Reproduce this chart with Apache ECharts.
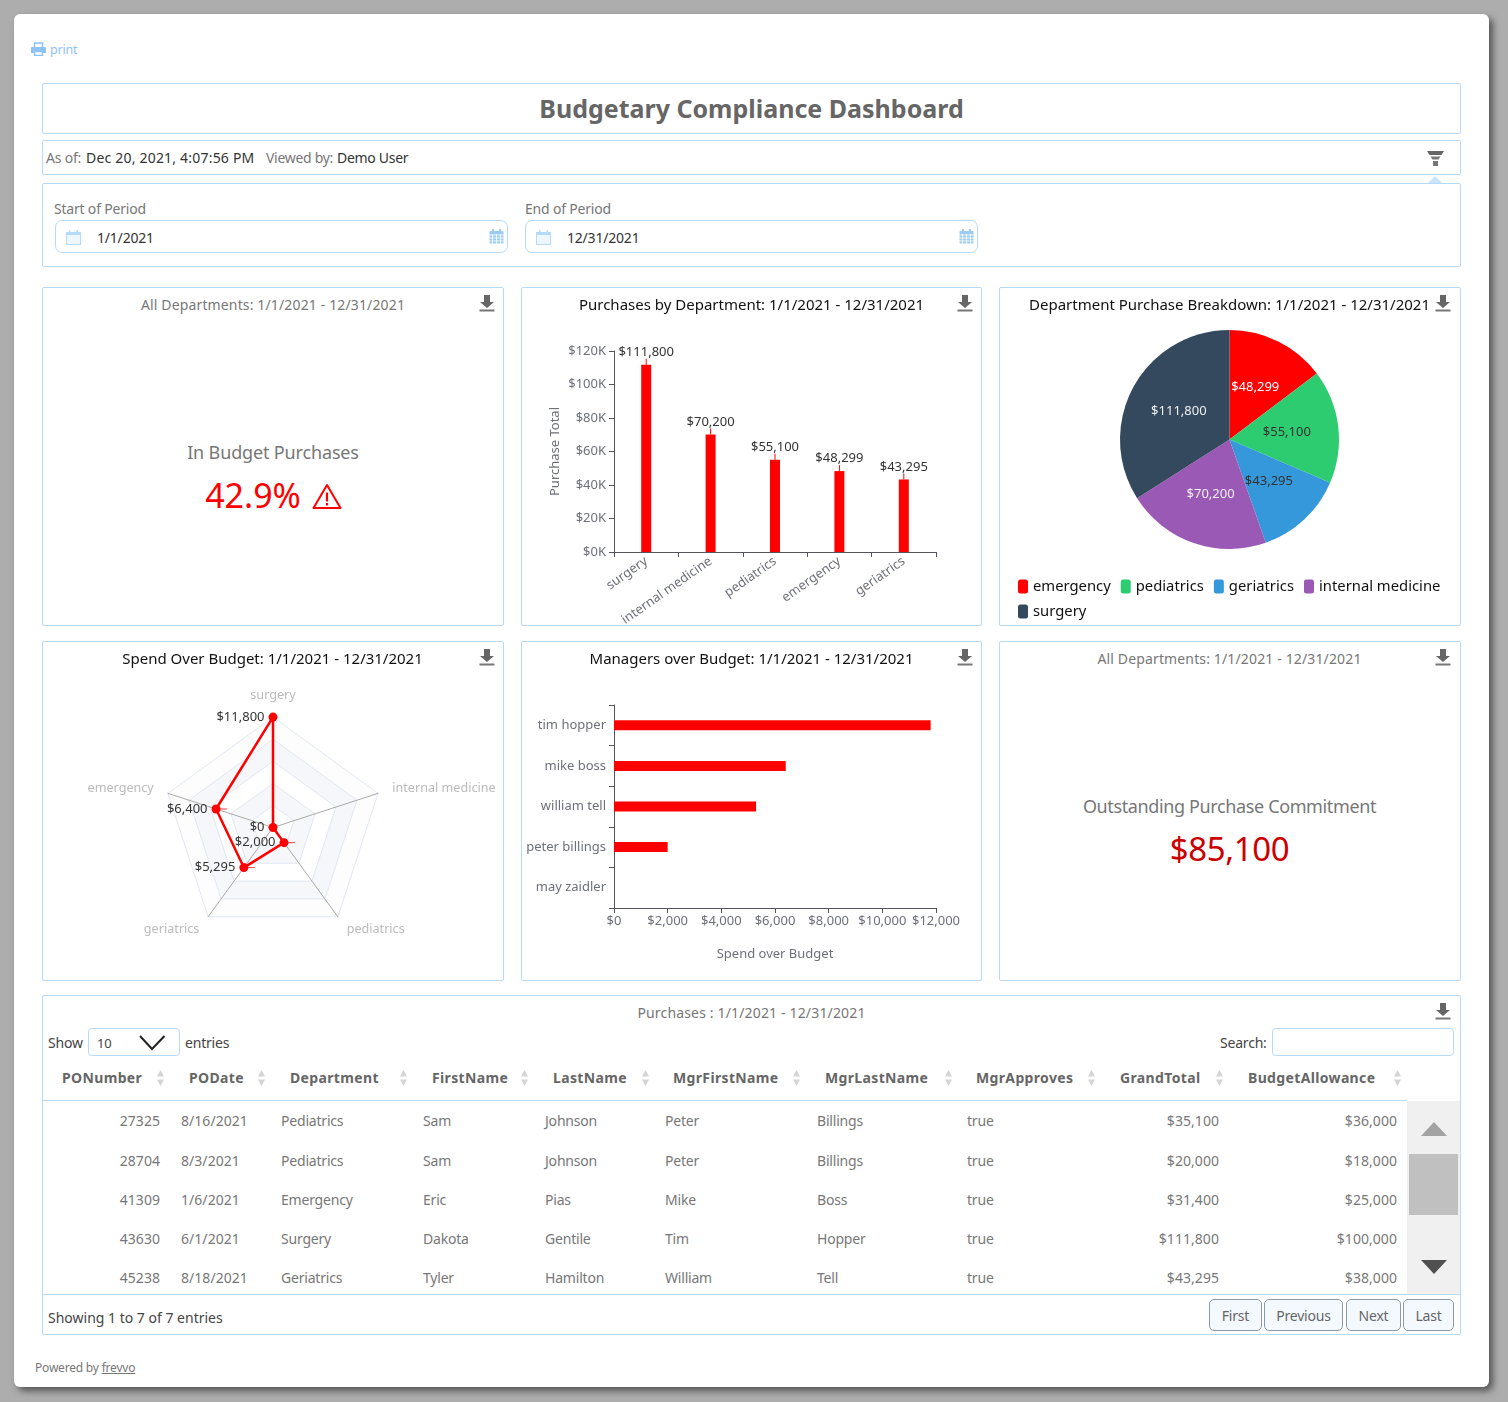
<!DOCTYPE html>
<html>
<head>
<meta charset="utf-8">
<title>Budgetary Compliance Dashboard</title>
<script src="https://cdn.jsdelivr.net/npm/echarts@6/dist/echarts.min.js"></script>
<style>
html, body { margin: 0; padding: 0; width: 1508px; height: 1402px; overflow: hidden; background: #adadad; font-family: "Noto Sans", sans-serif; }
#sheet { position: absolute; left: 14px; top: 14px; width: 1475px; height: 1373px; background: #fff; border-radius: 6px; box-shadow: 4px 4px 7px #555; }
#page { position: absolute; left: 0; top: 0; width: 1508px; height: 1402px; }
.box { position: absolute; box-sizing: border-box; border: 1px solid #b5dbfb; border-radius: 2px; }
.t { position: absolute; white-space: nowrap; line-height: 20px; height: 20px; font-size: 14px; color: #666; letter-spacing: -0.2px; }
.chart { position: absolute; }
svg { position: absolute; }
.btn { position: absolute; box-sizing: border-box; top: 1299px; height: 32px; line-height: 32px; text-align: center; background: #f3f9ff; border: 1px solid #8a9aa8; border-radius: 5px; font-size: 14px; color: #666; letter-spacing: -0.2px; }
</style>
</head>
<body>
<div id="sheet"></div>
<div id="page"></div>
<script>
// chart data
var barDepts = ['surgery', 'internal medicine', 'pediatrics', 'emergency', 'geriatrics'];
var barTotals = [111800, 70200, 55100, 48299, 43295];

var pieDepts = ['emergency', 'pediatrics', 'geriatrics', 'internal medicine', 'surgery'];
var pieTotals = [48299, 55100, 43295, 70200, 111800];
var pieColors = ['#ff0000', '#2ecc71', '#3498db', '#9b59b6', '#34495e'];
var pieLabelColors = ['#fff', '#333', '#333', '#eee', '#eee'];

// radar runs counterclockwise from the top
var radarDepts = ['surgery', 'emergency', 'geriatrics', 'pediatrics', 'internal medicine'];
var radarOver = [11800, 6400, 5295, 2000, 0];
var radarStubDepts = ['emergency', 'geriatrics', 'pediatrics'];

var managers = ['tim hopper', 'mike boss', 'william tell', 'peter billings', 'may zaidler'];
var managerOver = [11800, 6400, 5295, 2000, 0];

// table data
var tableHead = ['PONumber', 'PODate', 'Department', 'FirstName', 'LastName', 'MgrFirstName', 'MgrLastName', 'MgrApproves', 'GrandTotal', 'BudgetAllowance'];
var tableRows = [
    ['27325', '8/16/2021', 'Pediatrics', 'Sam', 'Johnson', 'Peter', 'Billings', 'true', '$35,100', '$36,000'],
    ['28704', '8/3/2021', 'Pediatrics', 'Sam', 'Johnson', 'Peter', 'Billings', 'true', '$20,000', '$18,000'],
    ['41309', '1/6/2021', 'Emergency', 'Eric', 'Pias', 'Mike', 'Boss', 'true', '$31,400', '$25,000'],
    ['43630', '6/1/2021', 'Surgery', 'Dakota', 'Gentile', 'Tim', 'Hopper', 'true', '$111,800', '$100,000'],
    ['45238', '8/18/2021', 'Geriatrics', 'Tyler', 'Hamilton', 'William', 'Tell', 'true', '$43,295', '$38,000']
];

var font = '"Noto Sans", sans-serif';
var period = '1/1/2021 - 12/31/2021';
var page = document.getElementById('page');

function box(x, y, w, h, css) {
    var d = document.createElement('div');
    d.className = 'box';
    d.style.cssText = 'left:' + x + 'px;top:' + y + 'px;width:' + w + 'px;height:' + h + 'px;' + (css || '');
    page.appendChild(d);
    return d;
}
// y is the vertical middle of the text
function text(x, y, str, css, right) {
    var d = document.createElement('div');
    d.className = 't';
    d.textContent = str;
    d.style.cssText = (right ? 'right:' + (1508 - x) + 'px' : 'left:' + x + 'px') + ';top:' + (y - 10) + 'px;' + (css || '');
    page.appendChild(d);
    return d;
}
function centered(cx, y, str, css) {
    var d = text(cx, y, str, css);
    d.style.transform = 'translateX(-50%)';
    return d;
}
function svg(x, y, w, h, body) {
    var s = '<svg xmlns="http://www.w3.org/2000/svg" style="left:' + x + 'px;top:' + y + 'px" width="' + w + '" height="' + h + '" viewBox="0 0 ' + w + ' ' + h + '">' + body + '</svg>';
    page.insertAdjacentHTML('beforeend', s);
}
function download(x, y) {
    svg(x, y, 16, 17, '<path fill="#666" d="M5 0h6v7h4l-7 6-7-6h4z"/><rect x="0.5" y="14.5" width="15" height="2" fill="#777"/>');
}
function calendar(x, y, solid) {
    if (solid) {
        svg(x, y, 15, 15, '<rect x="0.5" y="2" width="14" height="12.5" rx="1" fill="#9ccbf5"/><path stroke="#fff" stroke-width="0.8" d="M0 6h15M0 9h15M0 12h15M3.5 5v10M7.5 5v10M11.5 5v10"/><rect x="3" y="0" width="2" height="3" fill="#9ccbf5"/><rect x="10" y="0" width="2" height="3" fill="#9ccbf5"/>');
    } else {
        svg(x, y, 15, 15, '<rect x="0.5" y="2.5" width="14" height="12" fill="#eef6fe" stroke="#b5dbfb"/><rect x="1" y="3" width="13" height="2" fill="#b5dbfb"/><rect x="3" y="0" width="1.5" height="4" fill="#b5dbfb"/><rect x="10.5" y="0" width="1.5" height="4" fill="#b5dbfb"/>');
    }
}

// header
svg(31, 42, 15, 14, '<path fill="none" stroke="#8fc3f5" stroke-width="1.500" d="M3.500 5V1h8v4"/><path fill="#8fc3f5" d="M1 5h13a1 1 0 0 1 1 1v5h-3V9H3v2H0V6a1 1 0 0 1 1-1z"/><path fill="none" stroke="#8fc3f5" stroke-width="1.500" d="M3.500 9.500h8v4h-8z"/>');
text(50, 50, 'print', 'color:#8fc3f5;font-size:12.5px');
box(42, 83, 1419, 51);
centered(751.5, 108, 'Budgetary Compliance Dashboard', 'font-size:25px;font-weight:700;color:#666;letter-spacing:0');
box(42, 140, 1419, 35);
text(46, 158, 'As of:', 'color:#777');
text(86, 158, 'Dec 20, 2021, 4:07:56 PM', 'color:#333;letter-spacing:0.2px');
text(266, 158, 'Viewed by:', 'color:#777;letter-spacing:-0.3px');
text(337, 158, 'Demo User', 'color:#333;letter-spacing:-0.3px');
svg(1427, 151, 17, 15, '<path fill="#666" d="M0 0h17l-2.500 4h-12z"/><path fill="#777" d="M3.500 5.500h10l-2 3h-6z"/><path fill="#777" d="M6 10h5v5H6z"/>');
svg(1427, 176, 16, 8, '<path fill="#c9e4fb" d="M8 0l7 7H1z"/>');

box(42, 183, 1419, 84);
text(54, 209, 'Start of Period', 'color:#777');
text(525, 209, 'End of Period', 'color:#777');
box(55, 220, 453, 33, 'border-radius:7px');
box(525, 220, 453, 33, 'border-radius:7px');
calendar(66, 230, false);
calendar(536, 230, false);
calendar(489, 229, true);
calendar(959, 229, true);
text(97, 238, '1/1/2021', 'color:#333');
text(567, 238, '12/31/2021', 'color:#333');

// kpi cards and chart cards
box(42, 287, 462, 339);
box(521, 287, 461, 339);
box(999, 287, 462, 339);
box(42, 641, 462, 340);
box(521, 641, 461, 340);
box(999, 641, 462, 340);
download(479, 295); download(957, 295); download(1435, 295);
download(479, 649); download(957, 649); download(1435, 649);

centered(273, 305, 'All Departments: ' + period, 'color:#777;letter-spacing:0.14px');
centered(273, 452, 'In Budget Purchases', 'font-size:18px;color:#777;letter-spacing:-0.15px');
centered(253, 495, '42.9%', 'font-size:34px;color:#f00;letter-spacing:0');
svg(312, 483, 30, 27, '<path fill="none" stroke="#f00" stroke-width="2" stroke-linejoin="round" d="M15 2L28.500 25H1.500z"/><path stroke="#f00" stroke-width="2.200" d="M15 9.500v9M15 20v2.500"/>');

centered(1229.5, 659, 'All Departments: ' + period, 'color:#777;letter-spacing:0.14px');
centered(1229.5, 806, 'Outstanding Purchase Commitment', 'font-size:18px;color:#777;letter-spacing:-0.37px');
centered(1229.5, 849, '$85,100', 'font-size:33px;color:#c00;letter-spacing:-0.4px');

function chartDiv(x, y, w, h) {
    var d = document.createElement('div');
    d.className = 'chart';
    d.style.cssText = 'left:' + x + 'px;top:' + y + 'px;width:' + w + 'px;height:' + h + 'px;';
    page.appendChild(d);
    return echarts.init(d);
}
function title(str) {
    return {
        text: str, left: 225.5, top: 6, textAlign: 'center',
        textStyle: { color: '#111', fontSize: 15, fontWeight: 'normal', fontFamily: font }
    };
}
var money = function (v) { return '$' + Number(v).toLocaleString('en-US'); };
var axisText = { color: '#6e7079', fontSize: 13, fontFamily: font };

// purchases by department
chartDiv(521, 287, 461, 339).setOption({
    animation: false,
    title: title('Purchases by Department: ' + period),
    grid: { left: 93, right: 46, top: 64, bottom: 74, outerBoundsMode: 'none' },
    xAxis: {
        type: 'category', data: barDepts,
        axisLabel: { rotate: 35, interval: 0, color: '#6e7079', fontSize: 13, fontFamily: font },
        axisTick: { show: true, alignWithLabel: false }
    },
    yAxis: {
        type: 'value', min: 0, max: 120000, interval: 20000,
        name: 'Purchase Total', nameLocation: 'middle', nameGap: 52, nameMoveOverlap: false,
        nameTextStyle: axisText,
        axisLabel: { color: '#6e7079', fontSize: 13, fontFamily: font, formatter: function (v) { return '$' + v / 1000 + 'K'; } },
        axisLine: { show: true }, axisTick: { show: true }, splitLine: { show: false }
    },
    series: [{
        type: 'bar', data: barTotals, barWidth: 10,
        itemStyle: { color: '#f00' },
        label: { show: true, position: 'top', distance: 5, color: '#333', fontSize: 13, fontFamily: font, formatter: function (p) { return money(p.value); } },
        labelLine: { show: true, lineStyle: { color: '#f00', width: 1 } },
        labelLayout: { dy: -1 }
    }]
});

// breakdown pie
chartDiv(999, 287, 462, 339).setOption({
    animation: false,
    title: title('Department Purchase Breakdown: ' + period),
    legend: {
        data: pieDepts, left: 14, top: 287, width: 440, icon: 'roundRect',
        itemWidth: 10, itemHeight: 14, itemGap: 10,
        textStyle: { color: '#111', fontSize: 14.8, fontFamily: font }
    },
    series: [{
        type: 'pie', center: [230.5, 152.500], radius: 109.5, startAngle: 90,
        color: pieColors,
        label: { position: 'inner', fontSize: 13, fontFamily: font, formatter: function (p) { return money(p.value); } },
        data: pieDepts.map(function (n, i) {
            return { name: n, value: pieTotals[i], label: { color: pieLabelColors[i] } };
        })
    }]
});

// spend over budget radar
var radarChart = chartDiv(42, 641, 462, 340);
radarChart.setOption({
    animation: false,
    title: title('Spend Over Budget: ' + period),
    radar: {
        center: [231, 186.500], radius: 110.4, splitNumber: 5,
        indicator: radarDepts.map(function (n) { return { name: n, max: 11800 }; }),
        axisName: { color: '#bbb', fontSize: 12.6, fontFamily: font },
        axisLine: { lineStyle: { color: '#aaa' } },
        splitLine: { lineStyle: { color: '#e0e6f1' } },
        splitArea: { areaStyle: { color: ['#fff', '#f5f7fb', '#fff', '#f5f7fb', '#fdfdfe'] } }
    },
    series: [{
        type: 'radar', symbol: 'circle', symbolSize: 9,
        lineStyle: { color: '#f00', width: 2.5 }, itemStyle: { color: '#f00' },
        label: { show: true, position: 'left', distance: 4, color: '#333', fontSize: 13, fontFamily: font, formatter: function (p) { return money(p.value); } },
        data: [{ value: radarOver }]
    }]
});
// short red ticks to the right of the middle points, placed through the radar scale
var radarCoord = radarChart.getModel().getComponent('radar').coordinateSystem;
radarChart.setOption({
    graphic: radarStubDepts.map(function (n) {
        var i = radarDepts.indexOf(n);
        var p = radarCoord.dataToPoint(radarOver[i], i);
        return {
            type: 'line', z: 1, silent: true,
            shape: { x1: p[0], y1: p[1], x2: p[0] + 11, y2: p[1] },
            style: { stroke: '#ff4040', lineWidth: 1 }
        };
    })
});

// managers over budget
chartDiv(521, 641, 461, 340).setOption({
    animation: false,
    title: title('Managers over Budget: ' + period),
    grid: { left: 93, right: 46, top: 64, bottom: 73, outerBoundsMode: 'none' },
    xAxis: {
        type: 'value', min: 0, max: 12000, interval: 2000,
        name: 'Spend over Budget', nameLocation: 'middle', nameGap: 40,
        nameTextStyle: axisText,
        axisLabel: { color: '#6e7079', fontSize: 13, margin: 7, fontFamily: font, formatter: money },
        axisLine: { show: true }, axisTick: { show: true }, splitLine: { show: false }
    },
    yAxis: {
        type: 'category', inverse: true, data: managers,
        axisLabel: { interval: 0, color: '#6e7079', fontSize: 13, fontFamily: font },
        axisTick: { show: true }
    },
    series: [{ type: 'bar', data: managerOver, barWidth: 10, itemStyle: { color: '#f00' } }]
});

// purchases table
box(42, 995, 1419, 340);
centered(751.5, 1012.500, 'Purchases : ' + period, 'color:#777;letter-spacing:0.16px');
download(1435, 1003);
text(48, 1043, 'Show', 'color:#444');
box(88, 1028, 92, 28, 'border-radius:4px');
text(97, 1043, '10', 'color:#444;font-size:13px');
svg(139, 1035, 27, 16, '<path fill="none" stroke="#222" stroke-width="2" d="M1 1l12 13L25.500 1"/>');
text(185, 1043, 'entries', 'color:#444');
text(1220, 1043, 'Search:', 'color:#444');
box(1272, 1028, 182, 28, 'border-radius:4px');

var headX = [62, 189, 290, 432, 553, 673, 825, 976, 1120, 1248];
var sortX = [160, 261, 403, 524, 645, 796, 948, 1091, 1219, 1397];
var cellX = [160, 181, 281, 423, 545, 665, 817, 967, 1219, 1397];
var rightCols = [0, 8, 9];
var numberCols = [0, 1, 8, 9];
var rowY = [1121, 1161, 1200, 1239, 1278];
tableHead.forEach(function (h, i) {
    text(headX[i], 1078, h, 'font-weight:700;color:#666;font-size:14px;letter-spacing:0.35px');
    svg(sortX[i] - 4, 1070, 9, 16, '<path fill="#d4d4d4" d="M4.500 0L8 6.500H1zM4.500 16L8 9.500H1z"/>');
});
box(43, 1100, 1364, 1, 'border:0;background:#b5dbfb;height:1px;border-radius:0');
tableRows.forEach(function (row, r) {
    row.forEach(function (v, c) {
        var css = 'color:#777' + (numberCols.indexOf(c) >= 0 ? ';letter-spacing:0.05px' : '');
        text(cellX[c], rowY[r], v, css, rightCols.indexOf(c) >= 0);
    });
});
box(1407, 1101, 53, 193, 'border:0;background:#f0f0f0;border-radius:0');
box(1409, 1154, 49, 61, 'border:0;background:#c0c0c0;border-radius:0');
svg(1421, 1122, 26, 14, '<path fill="#a3a3a3" d="M13 0l13 14H0z"/>');
svg(1421, 1260, 26, 14, '<path fill="#505050" d="M0 0h26L13 14z"/>');
box(43, 1294, 1417, 1, 'border:0;background:#b5dbfb;height:1px;border-radius:0');
text(48, 1318, 'Showing 1 to 7 of 7 entries', 'color:#444;letter-spacing:0');

[['First', 1209, 53], ['Previous', 1264, 79], ['Next', 1346, 55], ['Last', 1403, 51]].forEach(function (b) {
    var d = document.createElement('div');
    d.className = 'btn';
    d.textContent = b[0];
    d.style.left = b[1] + 'px';
    d.style.width = b[2] + 'px';
    page.appendChild(d);
});

var powered = text(35, 1368, 'Powered by ', 'font-size:12px;color:#777');
powered.insertAdjacentHTML('beforeend', '<span style="text-decoration:underline">frevvo</span>');
</script>
</body>
</html>
